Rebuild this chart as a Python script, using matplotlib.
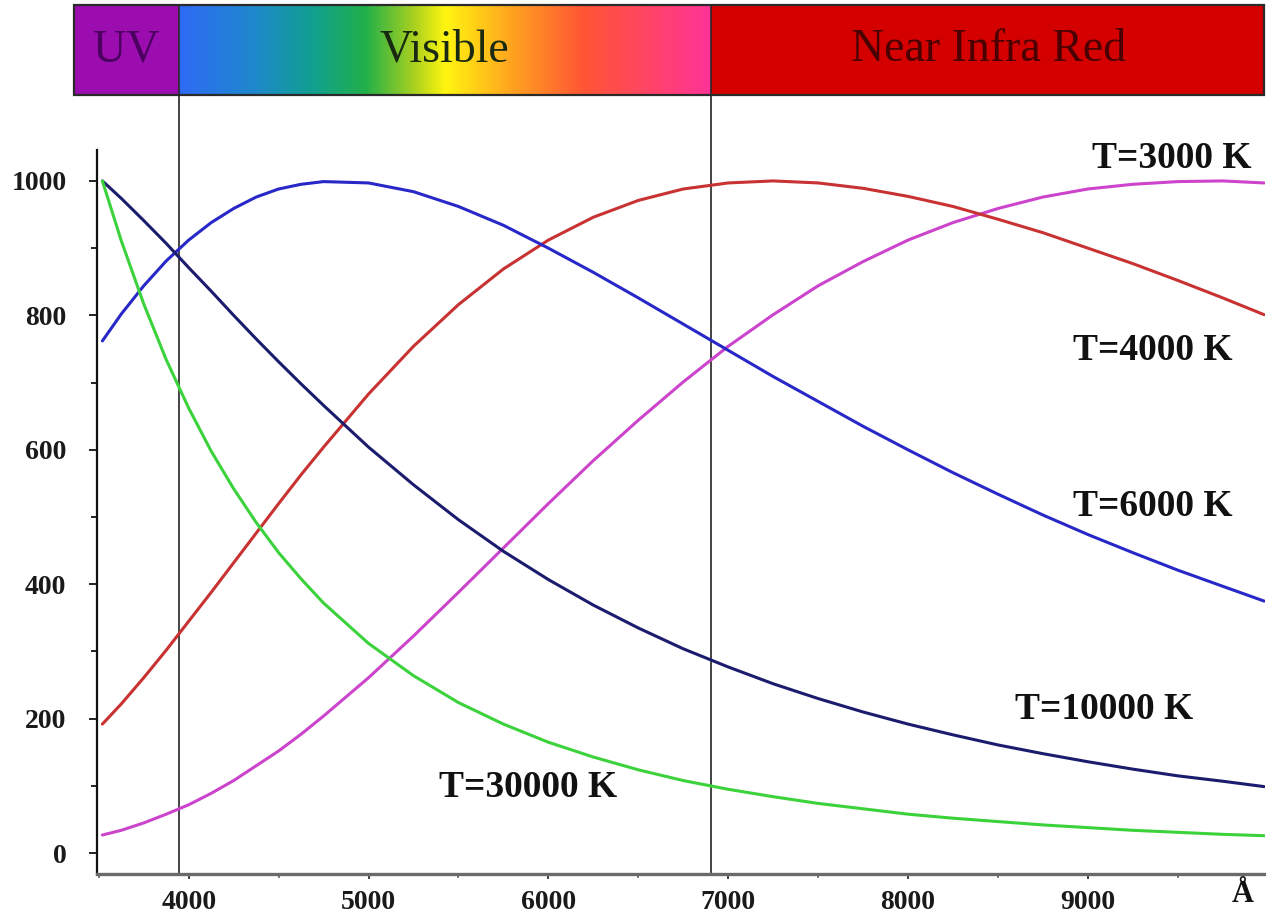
import matplotlib
matplotlib.use("Agg")
import matplotlib.pyplot as plt
from matplotlib.colors import LinearSegmentedColormap
from matplotlib.patches import Rectangle
from matplotlib.ticker import MultipleLocator
import numpy as np

# ---------------- data ----------------
wavelength = [3520, 3625, 3750, 3875, 4000, 4125, 4250, 4375, 4500, 4625,
              4750, 5000, 5250, 5500, 5750,
              6000, 6250, 6500, 6750, 7000, 7250, 7500, 7750, 8000, 8250,
              8500, 8750, 9000, 9250, 9500, 9750, 9980]
t3000 = [27, 34, 45, 58, 72, 89, 108, 130, 152, 177, 204, 261, 323, 388, 454,
         520, 584, 644, 701, 754, 801, 844, 880, 912, 938, 959, 976, 988, 995,
         999, 1000, 997]
t4000 = [192, 222, 261, 302, 345, 388, 432, 476, 520, 563, 604, 683, 754, 816,
         869, 912, 946, 971, 988, 997, 1000, 997, 989, 977, 962, 943, 923, 900,
         877, 852, 826, 801]
t6000 = [762, 802, 844, 881, 912, 938, 959, 976, 988, 995, 999, 997, 984, 962,
         934, 900, 864, 826, 787, 748, 709, 672, 635, 600, 566, 534, 503, 474,
         447, 421, 397, 375]
t10000 = [1000, 974, 941, 907, 871, 836, 800, 765, 731, 698, 666, 604, 548, 496,
          449, 407, 369, 335, 304, 277, 252, 230, 210, 192, 176, 161, 148, 136,
          125, 115, 107, 99]
t30000 = [1000, 911, 817, 734, 662, 598, 542, 492, 447, 408, 372, 312, 264, 224,
          192, 165, 143, 124, 108, 95, 84, 74, 66, 58, 52, 47, 42, 38, 34, 31,
          28, 26]

series_labels = ["T=3000 K", "T=4000 K", "T=6000 K", "T=10000 K", "T=30000 K"]
series_colors = ["#CC44CC", "#C83232", "#2828C8", "#1C1C6E", "#3CD23C"]
label_x = [9467, 9361, 9361, 9089, 5885]
label_y = [1034, 748, 515, 213, 98]

band_names = ["UV", "Visible", "Near Infra Red"]
band_edges = [3945, 6905]
x_ticks = [4000, 5000, 6000, 7000, 8000, 9000]
y_ticks = [0, 200, 400, 600, 800, 1000]

# ---------------- figure ----------------
W, H = 1266, 915
fig = plt.figure(figsize=(W / 100, H / 100), dpi=100)
fig.patch.set_facecolor("white")

ax_left, ax_right, ax_top, ax_bot = 97, 1265, 150, 874
ax = fig.add_axes([ax_left / W, 1 - ax_bot / H, (ax_right - ax_left) / W,
                   (ax_bot - ax_top) / H])
xmin, xmax = 3490, 9985
ymin, ymax = -31, 1046
ax.set_xlim(xmin, xmax)
ax.set_ylim(ymin, ymax)

serif = ["Liberation Serif", "DejaVu Serif"]

all_series = [t3000, t4000, t6000, t10000, t30000]
for vals, col in zip(all_series, series_colors):
    ax.plot(wavelength, vals, color=col, lw=2.2, solid_capstyle="round",
            solid_joinstyle="round")

for lab, lx, ly in zip(series_labels, label_x, label_y):
    ax.text(lx, ly, lab, ha="center", va="center", fontsize=27,
            fontweight="bold", family=serif, color="#111111")

# spines / ticks
for s in ["top", "right"]:
    ax.spines[s].set_visible(False)
ax.spines["left"].set_color("#111111")
ax.spines["left"].set_linewidth(1.6)
ax.spines["bottom"].set_color("#6a6a6a")
ax.spines["bottom"].set_linewidth(2.4)

ax.set_xticks(x_ticks)
ax.set_xticklabels([str(v) for v in x_ticks])
ax.xaxis.set_minor_locator(MultipleLocator(500))
ax.set_yticks(y_ticks)
ax.set_yticklabels([str(v) for v in y_ticks])
ax.yaxis.set_minor_locator(MultipleLocator(100))
ax.tick_params(axis="y", which="major", length=6, width=1.3, pad=16,
               direction="out", colors="#111111")
ax.tick_params(axis="y", which="minor", length=4.5, width=1.3, direction="out",
               colors="#111111")
ax.tick_params(axis="x", which="major", length=3.5, width=1.3, pad=8,
               direction="out", colors="#333333")
ax.tick_params(axis="x", which="minor", length=3, width=1.1, direction="out",
               colors="#555555")
for lbl in ax.get_xticklabels() + ax.get_yticklabels():
    lbl.set_family(serif)
    lbl.set_fontweight("bold")
    lbl.set_fontsize(20)
    lbl.set_color("#1a1a1a")

# ---------------- spectral band on top ----------------
band_top, band_bot = 5, 95
band_left_px, band_right_px = 74, 1264
pxper = (ax_right - ax_left) / (xmax - xmin)
b_xmin = xmin - (ax_left - band_left_px) / pxper
b_xmax = xmin + (band_right_px - ax_left) / pxper
bax = fig.add_axes([band_left_px / W, 1 - band_bot / H,
                    (band_right_px - band_left_px) / W, (band_bot - band_top) / H])
bax.set_xlim(b_xmin, b_xmax)
bax.set_ylim(0, 1)
bax.axis("off")

vis_cmap = LinearSegmentedColormap.from_list(
    "vis",
    [(0.00, "#2E6BF5"), (0.14, "#1E88CC"), (0.25, "#10A090"), (0.35, "#22B04A"),
     (0.44, "#A8D020"), (0.50, "#FFF510"), (0.63, "#FFA020"), (0.76, "#FF5535"),
     (0.88, "#FF4565"), (1.00, "#FF3399")])
grad = np.linspace(0, 1, 512).reshape(1, -1)
bax.imshow(grad, cmap=vis_cmap, aspect="auto",
           extent=[band_edges[0], band_edges[1], 0, 1], zorder=1)
bax.add_patch(Rectangle((b_xmin, 0), band_edges[0] - b_xmin, 1,
                        facecolor="#9B0DAF", edgecolor="none", zorder=1))
bax.add_patch(Rectangle((band_edges[1], 0), b_xmax - band_edges[1], 1,
                        facecolor="#D40000", edgecolor="none", zorder=1))
bax.add_patch(Rectangle((b_xmin, 0), b_xmax - b_xmin, 1, facecolor="none",
                        edgecolor="#2a2a2a", lw=1.6, zorder=3, clip_on=False))
for e in band_edges:
    bax.plot([e, e], [0, 1], color="#2a2a2a", lw=1.2, zorder=3)
bax.set_xlim(b_xmin, b_xmax)
bax.set_ylim(0, 1)

band_centers = [(b_xmin + band_edges[0]) / 2, 5420, 8449]
band_text_colors = ["#4B0060", "#1a2a10", "#4a0000"]
for name, cx, tc in zip(band_names, band_centers, band_text_colors):
    bax.text(cx, 0.5, name, ha="center", va="center", fontsize=33,
             family=serif, color=tc, zorder=4)

# vertical separators through the plot
ytop_frac = (ax_bot - band_bot) / (ax_bot - ax_top)
for e in band_edges:
    ax.plot([e, e], [0, ytop_frac], transform=ax.get_xaxis_transform(),
            color="#111111", lw=1.1, clip_on=False, zorder=1)

fig.text(1243 / W, 1 - 894 / H, "Å", ha="center", va="center", fontsize=22,
         fontweight="bold", family=serif, color="#111111")

fig.savefig("out.png", dpi=100)
